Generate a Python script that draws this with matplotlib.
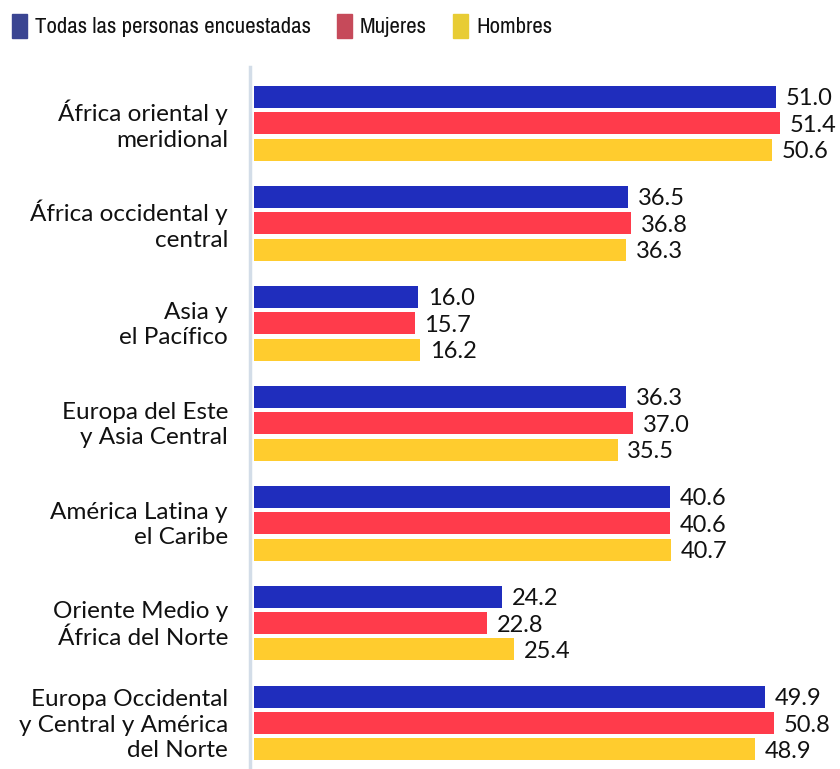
import matplotlib
matplotlib.use("Agg")
import matplotlib.pyplot as plt
from matplotlib.patches import Rectangle
from matplotlib import font_manager as fm
import matplotlib.transforms as mtransforms
import numpy as np

categories = ["África oriental y\nmeridional", "África occidental y\ncentral", "Asia y\nel Pacífico",
              "Europa del Este\ny Asia Central", "América Latina y\nel Caribe", "Oriente Medio y\nÁfrica del Norte",
              "Europa Occidental\ny Central y América\ndel Norte"]
todas = [51.0, 36.5, 16.0, 36.3, 40.6, 24.2, 49.9]
mujeres = [51.4, 36.8, 15.7, 37.0, 40.6, 22.8, 50.8]
hombres = [50.6, 36.3, 16.2, 35.5, 40.7, 25.4, 48.9]
series_names = ["Todas las personas encuestadas", "Mujeres", "Hombres"]

bar_colors = ["#1f2dbd", "#ff3b4b", "#ffcc2e"]
legend_colors = ["#3a4592", "#c64a5a", "#e8cc34"]

W, H = 840, 769
fig = plt.figure(figsize=(W/100, H/100), dpi=100)
ax = fig.add_axes([254/W, 0, (W-254)/W, (H-67)/H])

font = ["Lato", "DejaVu Sans"]
y = np.arange(len(categories))
offsets = [-0.265, 0.0, 0.265]
for vals, off, col in zip([todas, mujeres, hombres], offsets, bar_colors):
    ax.barh(y + off, vals, height=0.22, color=col)
    for yi, v in zip(y + off, vals):
        ax.text(v + 0.95, yi + 0.02, f"{v:.1f}", va="center", ha="left", fontsize=17,
                family=font, color="#111111")

ax.set_xlim(0, (W-254)/10.24)
ax.set_ylim(6.46, -0.56)
ax.set_yticks([])
ax.set_xticks([])
trans = mtransforms.blended_transform_factory(fig.transFigure, ax.transData)
for yi, lab in zip(y, categories):
    ax.text(228/W, yi + 0.02, lab, transform=trans, ha="right", va="center", fontsize=17.5,
            family=font, color="#111111", linespacing=1.27, multialignment="right",
            clip_on=False)
for s in ["top", "right", "bottom"]:
    ax.spines[s].set_visible(False)
ax.spines["left"].set_position(("outward", 3))
ax.spines["left"].set_color("#d3dde8")
ax.spines["left"].set_linewidth(2.5)

# legend font: prefer a condensed family if available
cond = None
for f in fm.fontManager.ttflist:
    if ("Narrow" in f.name or "Condensed" in f.name) and "Bold" not in f.style:
        cond = f.name
        break
legend_family = [cond, "Roboto", "DejaVu Sans"] if cond else ["Roboto", "DejaVu Sans"]
leg_fs = 16.5 if cond else 14

fig.canvas.draw()
renderer = fig.canvas.get_renderer()
x0 = 12
min_pos = [12, 284, 392]
for i, (name, col) in enumerate(zip(series_names, legend_colors)):
    x0 = max(x0, min_pos[i])
    fig.patches.append(Rectangle((x0/W, 1-38/H), 15/W, 24/H, transform=fig.transFigure,
                                 color=col, figure=fig))
    t = fig.text((x0+23)/W, 1-27/H, name, va="center", ha="left", fontsize=leg_fs,
                 family=legend_family, color="#111111")
    bb = t.get_window_extent(renderer)
    x0 = bb.x1 + 26

fig.savefig("out.png", dpi=100)
